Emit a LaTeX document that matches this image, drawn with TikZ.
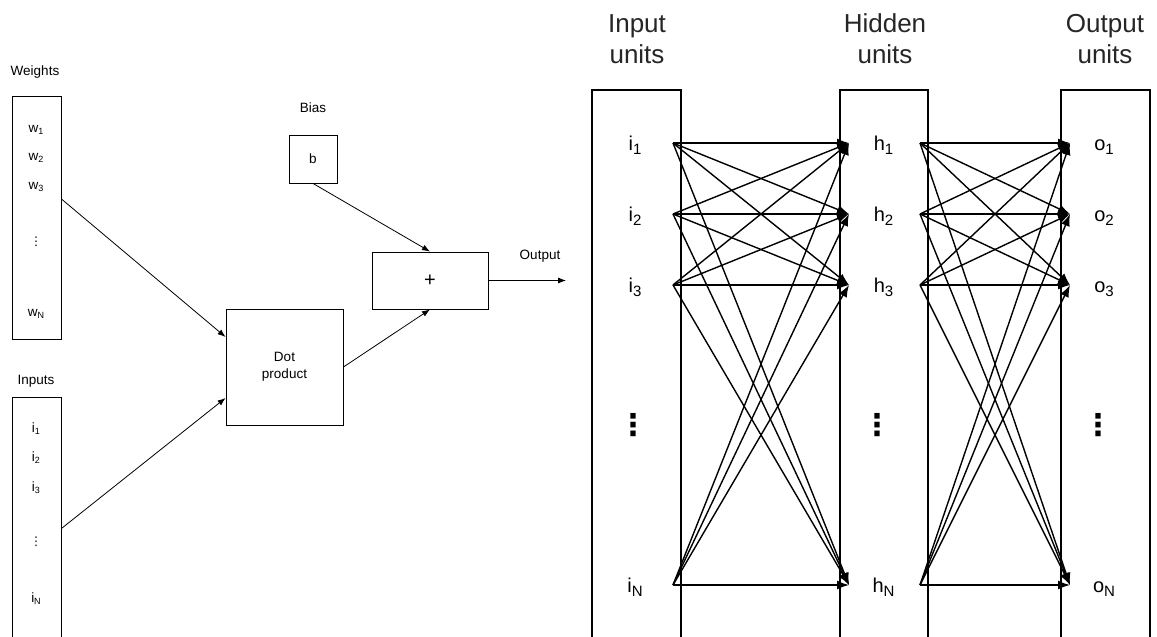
\documentclass[tikz,border=0pt]{standalone}
\usepackage{fontspec}
\setmainfont{Liberation Sans}
\newfontfamily\symfont{DejaVu Sans}
\usetikzlibrary{arrows.meta}

% lowered subscripts for the small and the large labels
\newcommand{\ssub}[1]{\raisebox{-2pt}{\fontsize{9}{9}\selectfont #1}}
\newcommand{\bsub}[1]{\raisebox{-4pt}{\fontsize{15}{15}\selectfont #1}}

\begin{document}
\begin{tikzpicture}[x=1pt,y=-1pt,
  thinbox/.style={draw,line width=0.9pt,inner sep=0pt,align=center,
    font=\fontsize{13.5}{17}\selectfont},
  unitbox/.style={draw,line width=1.4pt,inner sep=0pt,
    minimum width=89pt,minimum height=570pt},
  smalllbl/.style={anchor=base,inner sep=0pt,font=\fontsize{13.5}{13.5}\selectfont},
  unitlbl/.style={anchor=base,inner sep=0pt,font=\fontsize{20}{20}\selectfont},
  vdots/.style={inner sep=0pt,font=\symfont\bfseries\fontsize{30}{30}\selectfont},
  svdots/.style={inner sep=0pt,font=\symfont\fontsize{12}{12}\selectfont},
  title/.style={align=center,inner sep=0pt,text=black!85,font=\fontsize{26}{31}\selectfont},
  thinarrow/.style={line width=0.8pt,-{Latex[length=8pt,width=6pt]}},
  netarrow/.style={line width=1.4pt,-{Latex[length=12pt,width=9pt]}}]

\useasboundingbox (0,0) rectangle (1157,637);
\clip (0,0) rectangle (1157,637);
\fill[white] (0,0) rectangle (1157,637);

% ---------- single neuron ----------
\node[smalllbl] (wtitle) at (35,75) {Weights};
\node[thinbox,minimum width=49pt,minimum height=243pt] (wbox) at (36.5,217.5) {};
\node[smalllbl] (w1) at (36,132) {w\ssub{1}};
\node[smalllbl] (w2) at (36,160) {w\ssub{2}};
\node[smalllbl] (w3) at (36,189) {w\ssub{3}};
\node[svdots] (wdots) at (36,242) {⋮};
\node[smalllbl] (wN) at (36,316) {w\ssub{N}};

\node[smalllbl] (ititle) at (36,384) {Inputs};
\node[thinbox,minimum width=49pt,minimum height=263pt] (inbox) at (36.5,528.5) {};
\node[smalllbl] (x1) at (36,432) {i\ssub{1}};
\node[smalllbl] (x2) at (36,461) {i\ssub{2}};
\node[smalllbl] (x3) at (36,491) {i\ssub{3}};
\node[svdots] (xdots) at (36,542) {⋮};
\node[smalllbl] (xN) at (36,602) {i\ssub{N}};

\node[thinbox,minimum width=117pt,minimum height=116pt] (dot) at (284.5,367) {Dot\\product};
\node[smalllbl] (btitle) at (313,112) {Bias};
\node[thinbox,minimum width=48pt,minimum height=48pt] (bias) at (313,159) {b};
\node[thinbox,minimum width=116pt,minimum height=57pt,font=\fontsize{20}{20}\selectfont] (plus) at (430,280.5) {+};
\node[smalllbl] (otitle) at (540,259) {Output};
\coordinate (out) at (566,280.5);

\draw[thinarrow] ([yshift=18.5pt]wbox.east) -- ([yshift=30pt]dot.west);
\draw[thinarrow] (inbox.east) -- ([yshift=-31pt]dot.west);
\draw[thinarrow] (bias.south) -- (plus.north);
\draw[thinarrow] (dot.east) -- (plus.south);
\draw[thinarrow] (plus.east) -- (out);

% ---------- network ----------
\node[title] (tin) at (637,39) {Input\\units};
\node[title] (thid) at (885,39) {Hidden\\units};
\node[title] (tout) at (1105,39) {Output\\units};

\node[unitbox] (ibox) at (636.5,375) {};
\node[unitbox,minimum width=88pt] (hbox) at (884,375) {};
\node[unitbox] (obox) at (1105.5,375) {};

\foreach \k/\y in {1/143,2/214,3/285,N/585}{
  \node[unitlbl] (i\k) at (635,\y+7.5) {i\bsub{\k}};
  \node[unitlbl] (h\k) at (883.5,\y+7.5) {h\bsub{\k}};
  \node[unitlbl] (o\k) at (1104,\y+7.5) {o\bsub{\k}};
  \coordinate (is\k) at (673,\y);
  \coordinate (ht\k) at (849,\y);
  \coordinate (hs\k) at (920,\y);
  \coordinate (ot\k) at (1070,\y);
}
\node[vdots] (idots) at (633,425) {⋮};
\node[vdots] (hdots) at (877,425) {⋮};
\node[vdots] (odots) at (1098,425) {⋮};

\foreach \s in {1,2,3,N}{
  \foreach \t in {1,2,3,N}{
    \draw[netarrow] (is\s) -- (ht\t);
    \draw[netarrow] (hs\s) -- (ot\t);
  }
}
\end{tikzpicture}
\end{document}
